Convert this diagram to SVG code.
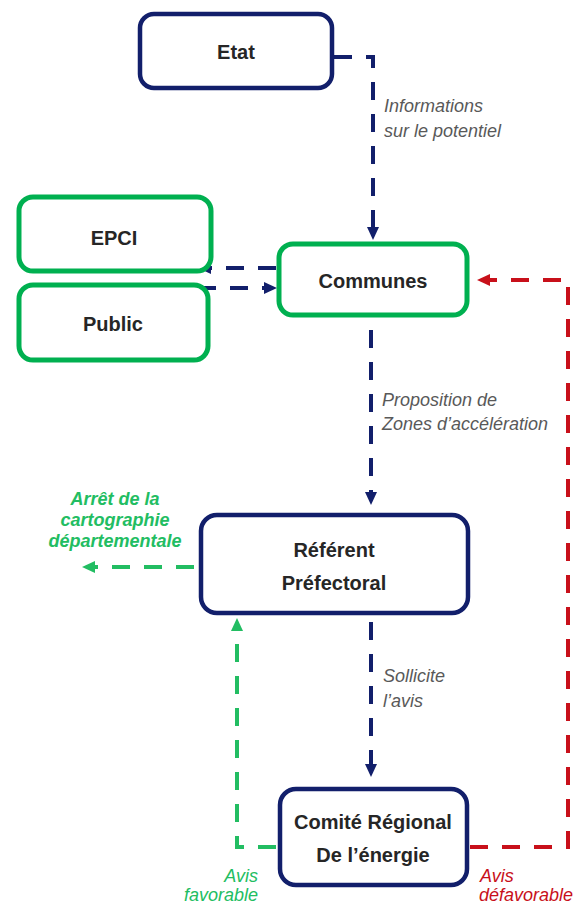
<svg xmlns="http://www.w3.org/2000/svg" width="575" height="907" viewBox="0 0 575 907">
  <style>
    .navy { fill: #ffffff; stroke: #121f6b; stroke-width: 4.5; }
    .green { fill: #ffffff; stroke: #00b050; stroke-width: 5; }
    .title { font-family: "Liberation Sans", Arial, sans-serif; font-weight: bold; font-size: 20px; fill: #262626; text-anchor: middle; }
    .lbl { font-family: "Liberation Sans", Arial, sans-serif; font-style: italic; font-size: 18px; fill: #595959; }
    .lblg { font-family: "Liberation Sans", Arial, sans-serif; font-style: italic; font-size: 18px; fill: #22bd62; }
    .lblgb { font-family: "Liberation Sans", Arial, sans-serif; font-style: italic; font-weight: bold; font-size: 18px; fill: #22bd62; text-anchor: middle; }
    .lblr { font-family: "Liberation Sans", Arial, sans-serif; font-style: italic; font-size: 18px; fill: #c8101a; }
    .cb { fill: none; stroke: #121f6b; stroke-width: 4; stroke-dasharray: 18 14; }
    .cg { fill: none; stroke: #22bd62; stroke-width: 4; stroke-dasharray: 18 14; }
    .cr { fill: none; stroke: #c8101a; stroke-width: 4; stroke-dasharray: 18 14; }
  </style>
  <defs>
    <marker id="ab" viewBox="0 0 13 12" refX="0" refY="6" markerWidth="13" markerHeight="12" markerUnits="userSpaceOnUse" orient="auto">
      <path d="M0,0 L13,6 L0,12 z" fill="#121f6b"/>
    </marker>
    <marker id="ag" viewBox="0 0 13 12" refX="0" refY="6" markerWidth="13" markerHeight="12" markerUnits="userSpaceOnUse" orient="auto">
      <path d="M0,0 L13,6 L0,12 z" fill="#22bd62"/>
    </marker>
    <marker id="ar" viewBox="0 0 13 12" refX="0" refY="6" markerWidth="13" markerHeight="12" markerUnits="userSpaceOnUse" orient="auto">
      <path d="M0,0 L13,6 L0,12 z" fill="#c8101a"/>
    </marker>
  </defs>
  <rect width="575" height="907" fill="#ffffff"/>

  <g id="connectors">
    <path class="cb" d="M334,57 H373 V227" marker-end="url(#ab)"/>
    <path class="cb" d="M276,268 H211" marker-end="url(#ab)"/>
    <path class="cb" d="M198,288 H264" marker-end="url(#ab)"/>
    <path class="cb" d="M371,330 V492" marker-end="url(#ab)"/>
    <path class="cb" d="M371,622 V764" marker-end="url(#ab)"/>
    <path class="cg" d="M194,567 H95" marker-end="url(#ag)"/>
    <path class="cg" d="M276,847 H237 V631" marker-end="url(#ag)"/>
    <path class="cr" d="M470,847 H568 V280 H490" marker-end="url(#ar)"/>
  </g>

  <g id="etat">
    <rect class="navy" x="140" y="14" width="192" height="74" rx="14"/>
    <text class="title" x="236" y="59">Etat</text>
  </g>
  <g id="epci">
    <rect class="green" x="19" y="197" width="192" height="74" rx="14"/>
    <text class="title" x="114" y="245">EPCI</text>
  </g>
  <g id="public">
    <rect class="green" x="19" y="285" width="189" height="75" rx="14"/>
    <text class="title" x="113" y="331">Public</text>
  </g>
  <g id="communes">
    <rect class="green" x="279" y="244" width="188" height="71" rx="14"/>
    <text class="title" x="373" y="288">Communes</text>
  </g>
  <g id="referent">
    <rect class="navy" x="201" y="515" width="267" height="98" rx="16"/>
    <text class="title" x="334" y="557">Référent</text>
    <text class="title" x="334" y="590">Préfectoral</text>
  </g>
  <g id="comite">
    <rect class="navy" x="280" y="789" width="187" height="96" rx="16"/>
    <text class="title" x="373" y="829">Comité Régional</text>
    <text class="title" x="373" y="862">De l’énergie</text>
  </g>

  <g id="labels">
    <text class="lbl" x="384" y="112">Informations</text>
    <text class="lbl" x="384" y="137">sur le potentiel</text>
    <text class="lbl" x="382" y="406">Proposition de</text>
    <text class="lbl" x="382" y="430">Zones d’accélération</text>
    <text class="lbl" x="383" y="682">Sollicite</text>
    <text class="lbl" x="383" y="707">l’avis</text>
    <text class="lblgb" x="115" y="505">Arrêt de la</text>
    <text class="lblgb" x="115" y="526">cartographie</text>
    <text class="lblgb" x="115" y="547">départementale</text>
    <text class="lblg" x="258" y="882" text-anchor="end">Avis</text>
    <text class="lblg" x="258" y="901" text-anchor="end">favorable</text>
    <text class="lblr" x="480" y="882">Avis</text>
    <text class="lblr" x="479" y="901" font-size="17.5">défavorable</text>
  </g>
</svg>
